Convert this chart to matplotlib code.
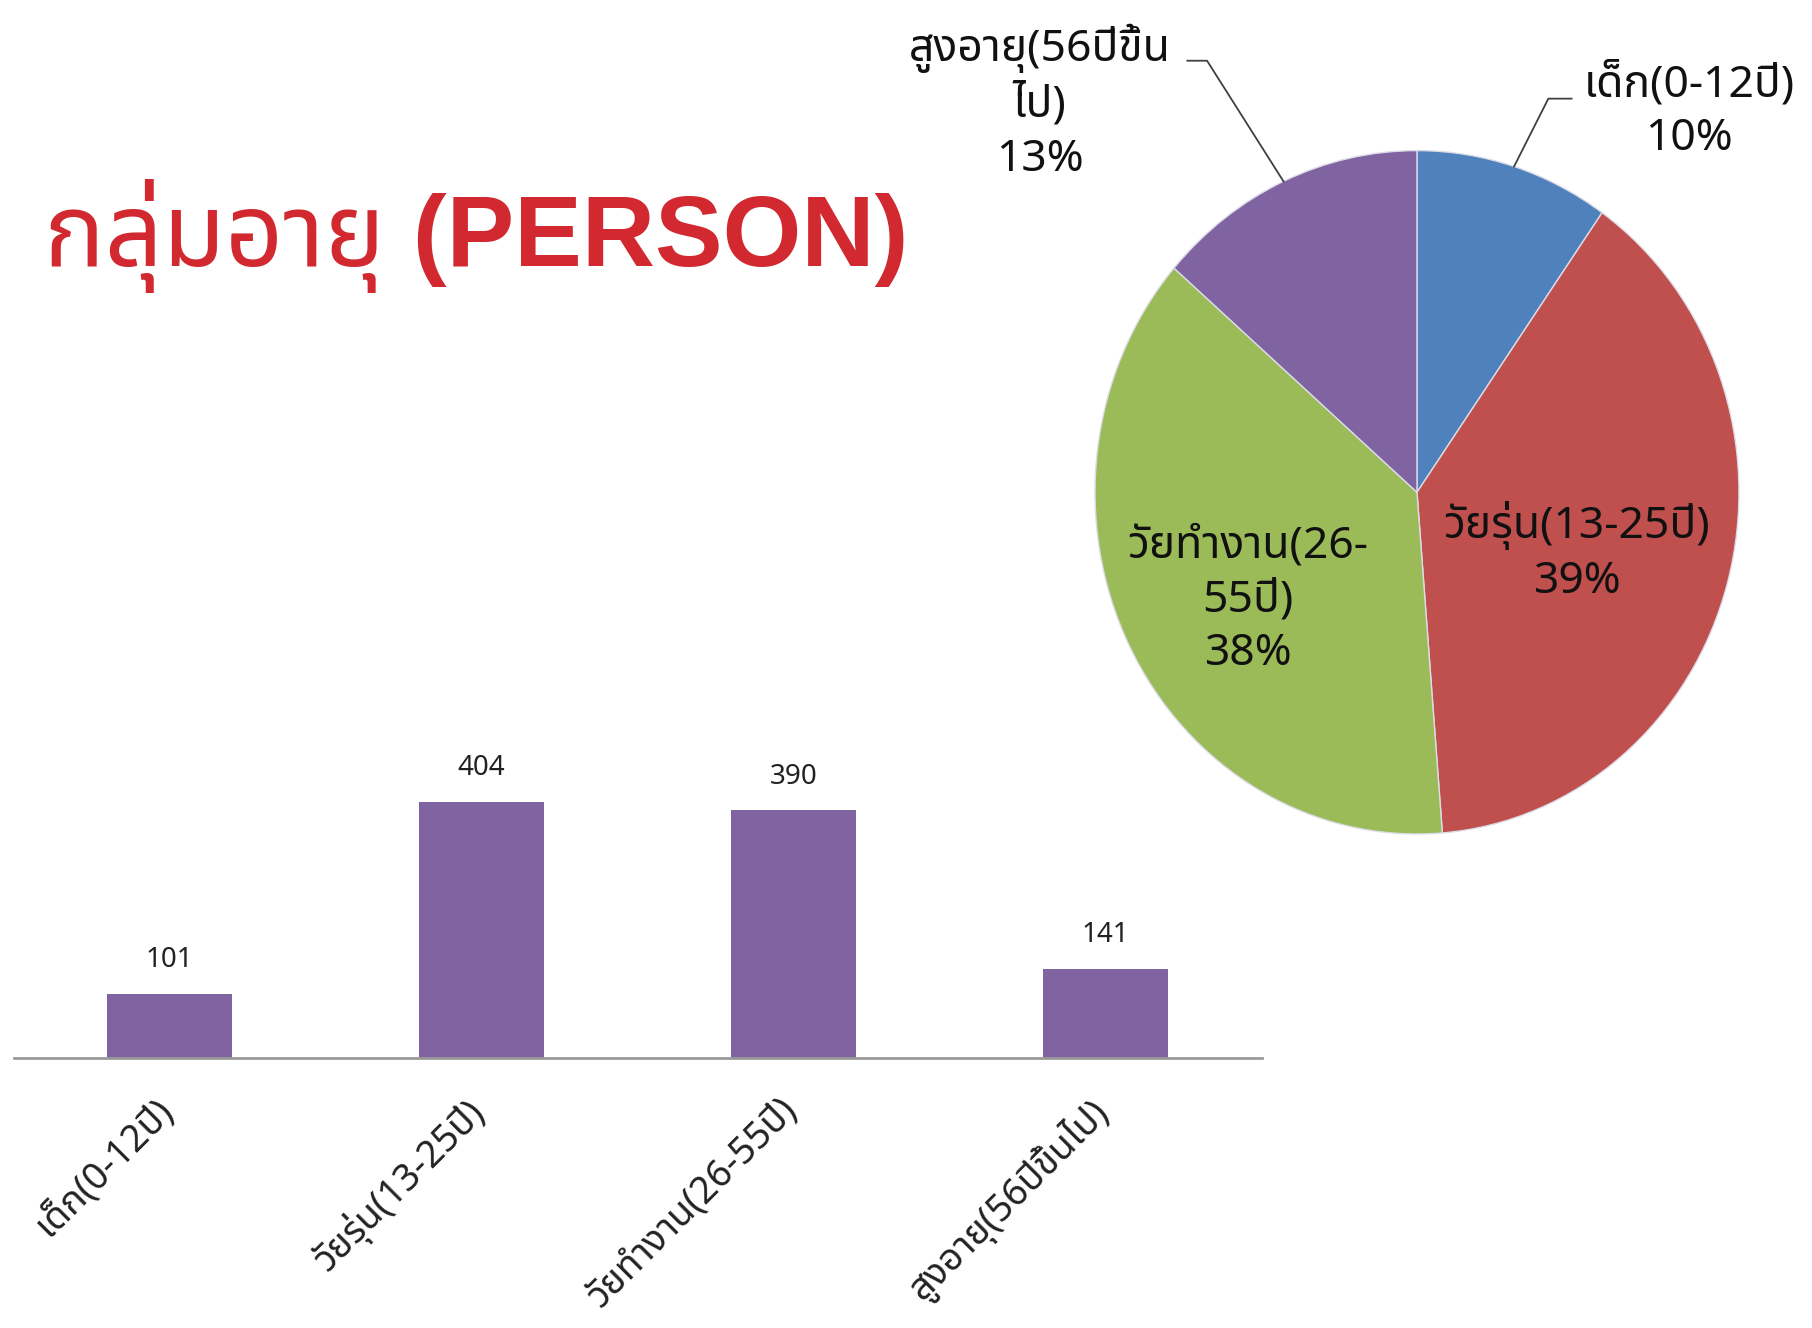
import matplotlib
matplotlib.use('Agg')
import matplotlib.pyplot as plt
import matplotlib.transforms as mtransforms
from matplotlib import font_manager
from matplotlib.ft2font import FT2Font
import numpy as np

# ---------------- data ----------------
categories = ['เด็ก(0-12ปี)', 'วัยรุ่น(13-25ปี)', 'วัยทำงาน(26-55ปี)', 'สูงอายุ(56ปีขึ้นไป)']
counts = [101, 404, 390, 141]
pie_labels = ['เด็ก(0-12ปี)', 'วัยรุ่น(13-25ปี)', 'วัยทำงาน(26-\n55ปี)', 'สูงอายุ(56ปีขึ้น\nไป)']
pie_pct = ['10%', '39%', '38%', '13%']
title_text = 'กลุ่มอายุ (PERSON)'

pie_colors = ['#4F81BD', '#C0504D', '#9BBB59', '#8064A2']
bar_color = '#8064A2'


# ---------------- find a font that has Thai glyphs ----------------
def find_thai_font():
    prefs = ['Tahoma', 'Leelawadee UI', 'Leelawadee', 'Noto Sans Thai', 'Noto Sans Thai UI',
             'Noto Sans Thai Looped', 'Loma', 'Garuda', 'Umpush', 'Waree', 'Sarabun',
             'Kinnari', 'Norasi', 'Laksaman', 'Sawasdee', 'Tlwg Typo', 'Purisa', 'Kanit', 'Prompt']
    found = {}
    for f in font_manager.fontManager.ttflist:
        try:
            ft = FT2Font(f.fname)
            if ft.get_char_index(0x0E01) and ft.get_char_index(0x0E35):
                found.setdefault(f.name, f.fname)
        except Exception:
            pass
    for p in prefs:
        if p in found:
            return p
    if found:
        return sorted(found)[0]
    return None


thai = find_thai_font()
fam = ['DejaVu Sans'] if thai is None else [thai, 'DejaVu Sans']
title_fam = ['Liberation Sans'] + ([thai] if thai else []) + ['DejaVu Sans']
plt.rcParams['font.family'] = fam

fig = plt.figure(figsize=(18.12, 13.28), dpi=100)
fig.patch.set_facecolor('white')

# ---------------- title ----------------
fig.text(0.0245, 0.822, title_text, fontsize=73, fontweight='bold', color='#D2282F',
         ha='left', va='center', family=title_fam)

# ---------------- bar chart ----------------
axb = fig.add_axes([0.0075, 0.2033, 0.6887, 0.239])
x = np.arange(len(categories))
bars = axb.bar(x, counts, width=0.40, color=bar_color, edgecolor='none')
axb.set_xlim(-0.5, 3.5)
axb.set_ylim(0, 500)
for s in ['top', 'right', 'left']:
    axb.spines[s].set_visible(False)
axb.spines['bottom'].set_color('#9a9a9a')
axb.spines['bottom'].set_linewidth(2)
axb.set_yticks([])
axb.set_xticks(x)
axb.set_xticklabels(categories, rotation=45, ha='right', fontsize=27, color='#222222')
axb.tick_params(axis='x', length=0, pad=24)
offset = mtransforms.ScaledTranslation(12 / 100, 0, fig.dpi_scale_trans)
for lbl in axb.get_xticklabels():
    lbl.set_transform(lbl.get_transform() + offset)
axb.bar_label(bars, labels=[str(v) for v in counts], padding=14, fontsize=20, color='#222222')
axb.patch.set_alpha(0)

# ---------------- pie chart ----------------
axp = fig.add_axes([0.551, 0.2948, 0.462, 0.669])
wedges, _ = axp.pie(counts, colors=pie_colors, startangle=90, counterclock=False,
                    wedgeprops=dict(edgecolor='#dcdce8', linewidth=1.0))
axp.set_aspect('auto')
axp.set_xlim(-1.3, 1.3)
axp.set_ylim(-1.3, 1.3)
axp.axis('off')

label_pos = [(0.846, 1.114), (0.497, -0.175), (-0.525, -0.316), (-1.171, 1.14)]
for i, (lab, pct) in enumerate(zip(pie_labels, pie_pct)):
    axp.text(label_pos[i][0], label_pos[i][1], lab + '\n' + pct, ha='center', va='center',
             fontsize=32, color='#111111', linespacing=1.3)

# leader lines for the two outside labels (start at wedge mid-angle on the rim)
leader = {0: [(0.408, 1.152), (0.48, 1.152)], 3: [(-0.652, 1.263), (-0.713, 1.263)]}
for i, pts in leader.items():
    w = wedges[i]
    ang = np.deg2rad((w.theta1 + w.theta2) / 2)
    xs = [np.cos(ang)] + [p[0] for p in pts]
    ys = [np.sin(ang)] + [p[1] for p in pts]
    axp.plot(xs, ys, color='#404040', lw=1.3, clip_on=False)

fig.savefig('out.png', dpi=100, facecolor='white')
